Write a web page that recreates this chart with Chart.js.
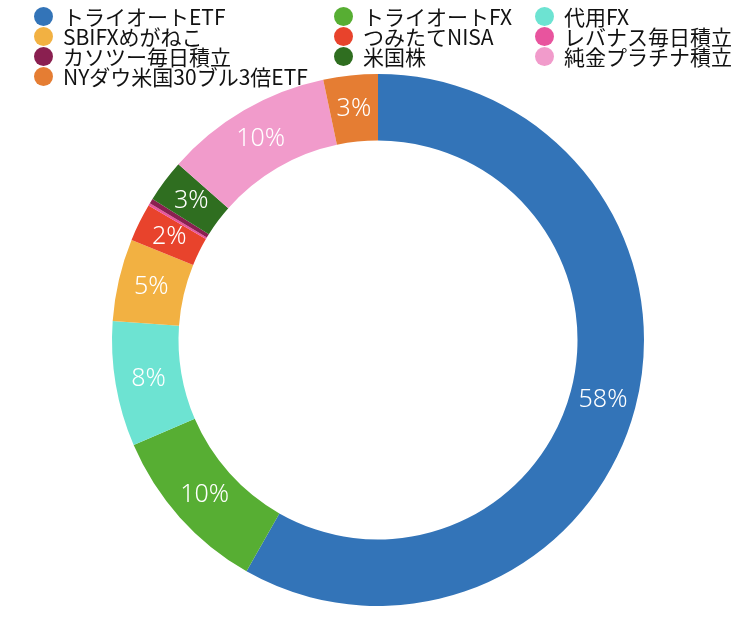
<!DOCTYPE html>
<html>
<head>
<meta charset="utf-8">
<script src="https://cdn.jsdelivr.net/npm/chart.js@4"></script>
<style>
  html, body { margin: 0; padding: 0; background: #fff; }
  #wrap { position: relative; width: 750px; height: 625px; }
  #legend {
    position: absolute; left: 34px; top: 6px;
    display: grid; grid-template-columns: 300px 201px 200px;
    font-family: "Noto Sans CJK JP", "Noto Sans", sans-serif; font-size: 21px;
    line-height: 20px; color: #111;
  }
  .item { display: flex; align-items: center; white-space: nowrap; height: 20px; }
  .dot { width: 19px; height: 19px; border-radius: 50%; margin-right: 10px; flex: none; }
</style>
</head>
<body>
<div id="wrap">
  <canvas id="pie" width="750" height="625"></canvas>
  <div id="legend"></div>
</div>
<script>
// slice names, in drawing order (clockwise from top)
const labels = ['トライオートETF', 'トライオートFX', '代用FX', 'SBIFXめがねこ', 'つみたてNISA',
                'レバナス毎日積立', 'カソツー毎日積立', '米国株', '純金プラチナ積立', 'NYダウ米国30ブル3倍ETF'];
// share of each holding (%)
const values = [58.2, 10.3, 7.6, 5.0, 2.3, 0.15, 0.3, 2.6, 10.2, 3.3];
const colors = ['#3374b8', '#57ae33', '#6de3d2', '#f2b142', '#e8432c',
                '#e8549e', '#8a1f50', '#2f6e20', '#f19bcb', '#e57d33'];

// html legend, laid out in three columns like the original
const legendEl = document.getElementById('legend');
labels.forEach((name, i) => {
    const item = document.createElement('div');
    item.className = 'item';
    item.innerHTML = '<span class="dot" style="background:' + colors[i] + '"></span>' + name;
    legendEl.appendChild(item);
});

// draws the white percentage inside each slice
const pctLabels = {
    id: 'pctLabels',
    afterDatasetsDraw(chart) {
        const ctx = chart.ctx;
        const meta = chart.getDatasetMeta(0);
        const total = values.reduce((a, b) => a + b, 0);
        ctx.save();
        ctx.fillStyle = '#fff';
        ctx.font = '300 25px "Noto Sans", sans-serif';
        ctx.textAlign = 'center';
        ctx.textBaseline = 'middle';
        meta.data.forEach((arc, i) => {
            const pct = values[i] / total * 100;
            if (pct < 1) return;
            const p = arc.tooltipPosition();
            ctx.fillText(Math.round(pct) + '%', p.x, p.y);
        });
        ctx.restore();
    }
};

const ctx = document.getElementById('pie').getContext('2d');
new Chart(ctx, {
    type: 'doughnut',
    data: {
        labels: labels,
        datasets: [{ data: values, backgroundColor: colors, borderWidth: 0 }]
    },
    options: {
        responsive: false, animation: false, cutout: '75%',
        layout: { padding: { top: 74, bottom: 19, left: 6, right: 0 } },
        plugins: { legend: { display: false }, tooltip: { enabled: false } }
    },
    plugins: [pctLabels]
});
</script>
</body>
</html>
